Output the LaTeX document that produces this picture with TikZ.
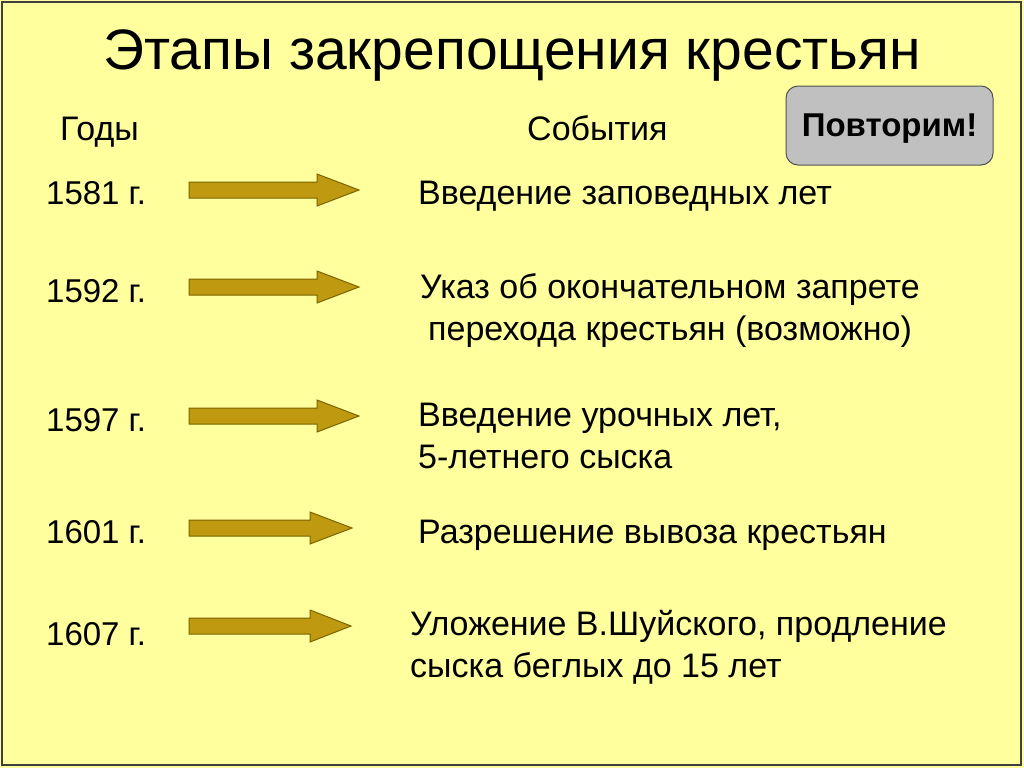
\documentclass[tikz,border=0pt]{standalone}
\usepackage{fontspec}
\setmainfont{Liberation Sans}
\definecolor{slidebg}{HTML}{FFFF9E}
\definecolor{arrowfill}{HTML}{BF9A10}
\definecolor{arrowline}{HTML}{7A6400}
\definecolor{btnfill}{HTML}{C0C0C0}
\definecolor{btnline}{HTML}{505050}
\tikzset{
  year/.style={anchor=base west, inner sep=0pt, font=\fontsize{33}{38}\selectfont},
  head/.style={anchor=base west, inner sep=0pt, font=\fontsize{34}{38}\selectfont},
  event/.style={anchor=base west, inner sep=0pt, align=left, font=\fontsize{34}{42}\selectfont},
  goldarrow/.style={fill=arrowfill, draw=arrowline, line width=1pt, line join=miter},
}
% block arrow: centre line y, start of head, tip
\newcommand{\blockarrow}[3]{%
  \draw[goldarrow] (189,#1-8) -- (#2,#1-8) -- (#2,#1-16) -- (#3,#1)
     -- (#2,#1+16) -- (#2,#1+8) -- (189,#1+8) -- cycle;}
\begin{document}
\begin{tikzpicture}[x=1pt,y=-1pt]
  % Hintergrund
  \fill[slidebg] (0,0) rectangle (1024,768);
  \useasboundingbox (0,0) rectangle (1024,768);
  \draw[black!75, line width=1.2pt] (2,2) rectangle (1021,765);

  % Titel
  \node[anchor=base, inner sep=0pt, font=\fontsize{57}{60}\selectfont] (title) at (512,70)
    {Этапы закрепощения крестьян};

  % Kopfzeile
  \node[head] (goda) at (60,140) {Годы};
  \node[head] (sobytiya) at (527,140) {События};
  \node[draw=btnline, fill=btnfill, line width=1pt, rounded corners=12pt,
        minimum width=207pt, minimum height=79pt, inner sep=0pt, text depth=0pt,
        font=\bfseries\fontsize{33}{36}\selectfont] (povtorim) at (889.5,125.5) {Повторим!};

  % Jahre
  \node[year] (y1581) at (46,204) {1581 г.};
  \node[year] (y1592) at (46,302) {1592 г.};
  \node[year] (y1597) at (46,431) {1597 г.};
  \node[year] (y1601) at (46,543) {1601 г.};
  \node[year] (y1607) at (46,645) {1607 г.};

  % Pfeile
  \blockarrow{190}{317}{359}
  \blockarrow{287}{317}{359}
  \blockarrow{416}{317}{359}
  \blockarrow{528}{310}{352}
  \blockarrow{626}{310}{351}

  % Ereignisse (Basislinie der letzten Zeile)
  \node[event] (e1581) at (418,204) {Введение заповедных лет};
  \node[event] (e1592) at (420,340) {Указ об окончательном запрете\\\hspace*{8pt}перехода крестьян (возможно)};
  \node[event] (e1597) at (418,468) {Введение урочных лет,\\5-летнего сыска};
  \node[event] (e1601) at (418,543) {Разрешение вывоза крестьян};
  \node[event] (e1607) at (410,677) {Уложение В.Шуйского, продление\\сыска беглых до 15 лет};
\end{tikzpicture}
\end{document}
